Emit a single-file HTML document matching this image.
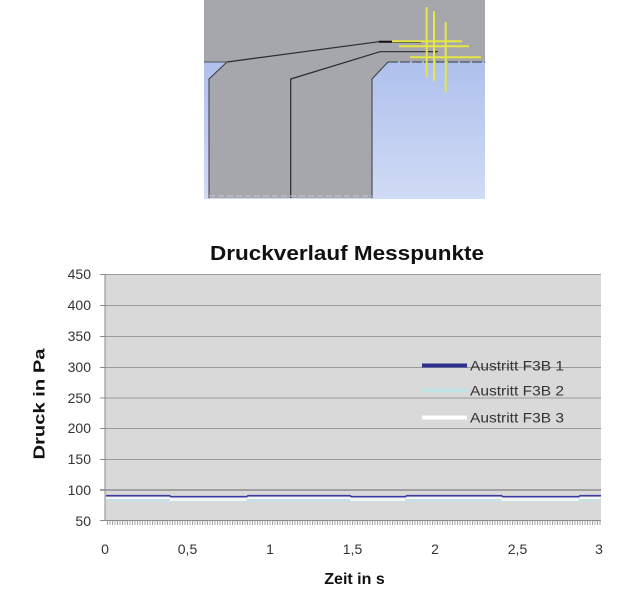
<!DOCTYPE html>
<html><head><meta charset="utf-8"><style>
html,body{margin:0;padding:0;background:#fff;}
svg{display:block;}
</style></head><body>
<svg width="620" height="600" viewBox="0 0 620 600" xmlns="http://www.w3.org/2000/svg">
<defs>
<linearGradient id="bl" x1="0" y1="0" x2="0" y2="1">
<stop offset="0" stop-color="#aec0ec"/>
<stop offset="1" stop-color="#d0dbf5"/>
</linearGradient>
</defs>
<rect width="620" height="600" fill="#fff"/>
<!-- top image -->
<rect x="204" y="62" width="281" height="137" fill="url(#bl)"/>
<rect x="204" y="0" width="281" height="62" fill="#a6a7ad"/>
<polygon points="227,62 209,79 209,198 372,198 372,79 388,62" fill="#a6a7ad"/>
<polyline points="227,62 209,79 209,198" fill="none" stroke="#3a3a40" stroke-width="1"/>
<polyline points="388,62 372,79 372,198" fill="none" stroke="#3a3a40" stroke-width="1"/>
<line x1="388" y1="62" x2="485" y2="62" stroke="#3a3a40" stroke-width="1" stroke-dasharray="10,2"/>
<line x1="204" y1="62" x2="227" y2="62" stroke="#55565c" stroke-width="1"/>
<polyline points="227,62 379,41.7 421,41.7" fill="none" stroke="#2a2a30" stroke-width="1.2"/>
<line x1="379" y1="41.7" x2="421" y2="41.7" stroke="#111" stroke-width="2"/>
<polyline points="290.7,198 290.7,79 380,51.7 438,51.7" fill="none" stroke="#2a2a30" stroke-width="1.2"/>
<line x1="209" y1="196" x2="372" y2="196" stroke="#c8c8cc" stroke-width="1" stroke-dasharray="6,3"/>
<g stroke="#e6e645" stroke-width="2">
<line x1="426.7" y1="7" x2="426.7" y2="77"/>
<line x1="434" y1="11" x2="434" y2="81"/>
<line x1="445.7" y1="22" x2="445.7" y2="92"/>
<line x1="392" y1="41.3" x2="462" y2="41.3"/>
<line x1="399" y1="46.3" x2="469" y2="46.3"/>
<line x1="410" y1="57.3" x2="481" y2="57.3"/>
</g>
<!-- chart -->
<text x="347" y="260" font-family="Liberation Sans, sans-serif" font-weight="bold" font-size="20" text-anchor="middle" textLength="274" lengthAdjust="spacingAndGlyphs" fill="#111">Druckverlauf Messpunkte</text>
<rect x="105" y="274" width="496" height="247" fill="#d9d9d9"/>
<g stroke="#9a9a9a" stroke-width="1">
<line x1="100" y1="274.5" x2="601" y2="274.5"/>
<line x1="100" y1="305.5" x2="601" y2="305.5"/>
<line x1="100" y1="336.5" x2="601" y2="336.5"/>
<line x1="100" y1="367.5" x2="601" y2="367.5"/>
<line x1="100" y1="398" x2="601" y2="398"/>
<line x1="100" y1="428.5" x2="601" y2="428.5"/>
<line x1="100" y1="459.5" x2="601" y2="459.5"/>
</g>
<line x1="100" y1="490" x2="601" y2="490" stroke="#a0a0a0" stroke-width="2"/>
<line x1="100" y1="520.5" x2="601" y2="520.5" stroke="#8c8c8c" stroke-width="1"/>
<line x1="105" y1="274" x2="105" y2="521" stroke="#8c8c8c" stroke-width="1"/>
<!-- dense x ticks -->
<g stroke="#9a9a9a" stroke-width="1" id="ticks"></g>
<!-- series -->
<line x1="106" y1="500.5" x2="601" y2="500.5" stroke="#bfe3e8" stroke-width="2"/>
<g stroke="#f4f4f4">
<line x1="106" y1="498" x2="169.5" y2="498" stroke-width="2"/>
<line x1="169.5" y1="499.3" x2="246.6" y2="499.3" stroke-width="3.5"/>
<line x1="246.6" y1="498" x2="350" y2="498" stroke-width="2"/>
<line x1="350" y1="499.3" x2="405.3" y2="499.3" stroke-width="3.5"/>
<line x1="405.3" y1="498" x2="501.5" y2="498" stroke-width="2"/>
<line x1="501.5" y1="499.3" x2="578.7" y2="499.3" stroke-width="3.5"/>
<line x1="578.7" y1="498" x2="601" y2="498" stroke-width="2"/>
</g>
<path d="M106,495.7 H169.5 L171,496.7 H246.6 L248,495.7 H350 L351.5,496.7 H405.3 L406.8,495.7 H501.5 L503,496.7 H578.7 L580,495.7 H601" fill="none" stroke="#3c3ca0" stroke-width="1.6"/>
<!-- y labels -->
<g font-family="Liberation Sans, sans-serif" font-size="14" fill="#333" text-anchor="end">
<text x="91" y="279">450</text>
<text x="91" y="310">400</text>
<text x="91" y="341">350</text>
<text x="91" y="372">300</text>
<text x="91" y="403">250</text>
<text x="91" y="433">200</text>
<text x="91" y="464">150</text>
<text x="91" y="495">100</text>
<text x="91" y="526">50</text>
</g>
<g font-family="Liberation Sans, sans-serif" font-size="14" fill="#333" text-anchor="middle">
<text x="105" y="554">0</text>
<text x="187.5" y="554">0,5</text>
<text x="270" y="554">1</text>
<text x="352.5" y="554">1,5</text>
<text x="435" y="554">2</text>
<text x="517.5" y="554">2,5</text>
<text x="599" y="554">3</text>
</g>
<text x="354.5" y="584" font-family="Liberation Sans, sans-serif" font-weight="bold" font-size="16" text-anchor="middle" fill="#111">Zeit in s</text>
<text transform="translate(44.5,404) rotate(-90)" font-family="Liberation Sans, sans-serif" font-weight="bold" font-size="16" text-anchor="middle" textLength="111" lengthAdjust="spacingAndGlyphs" fill="#111">Druck in Pa</text>
<!-- legend -->
<line x1="422" y1="365.5" x2="467" y2="365.5" stroke="#2e2e8c" stroke-width="4"/>
<line x1="422" y1="390.5" x2="467" y2="390.5" stroke="#bfe3e6" stroke-width="4"/>
<line x1="422" y1="417.5" x2="467" y2="417.5" stroke="#ffffff" stroke-width="4"/>
<g font-family="Liberation Sans, sans-serif" font-size="14" fill="#333">
<text x="470" y="370.5" textLength="94" lengthAdjust="spacingAndGlyphs">Austritt F3B 1</text>
<text x="470" y="395.5" textLength="94" lengthAdjust="spacingAndGlyphs">Austritt F3B 2</text>
<text x="470" y="422.5" textLength="94" lengthAdjust="spacingAndGlyphs">Austritt F3B 3</text>
</g>
<g stroke="#a3a3a3" stroke-width="1">
<path d="M107.5,521V525M110,521V525M112.5,521V525M115,521V525M117.5,521V525M120,521V525M122.5,521V525M125,521V525M127.5,521V525M130,521V525M132.5,521V525M135,521V525M137.5,521V525M140,521V525M142.5,521V525M145,521V525M147.5,521V525M150,521V525M152.5,521V525M155,521V525M157.5,521V525M160,521V525M162.5,521V525M165,521V525M167.5,521V525M170,521V525M172.5,521V525M175,521V525M177.5,521V525M180,521V525M182.5,521V525M185,521V525M187.5,521V525M190,521V525M192.5,521V525M195,521V525M197.5,521V525M200,521V525M202.5,521V525M205,521V525M207.5,521V525M210,521V525M212.5,521V525M215,521V525M217.5,521V525M220,521V525M222.5,521V525M225,521V525M227.5,521V525M230,521V525M232.5,521V525M235,521V525M237.5,521V525M240,521V525M242.5,521V525M245,521V525M247.5,521V525M250,521V525M252.5,521V525M255,521V525M257.5,521V525M260,521V525M262.5,521V525M265,521V525M267.5,521V525M270,521V525M272.5,521V525M275,521V525M277.5,521V525M280,521V525M282.5,521V525M285,521V525M287.5,521V525M290,521V525M292.5,521V525M295,521V525M297.5,521V525M300,521V525M302.5,521V525M305,521V525M307.5,521V525M310,521V525M312.5,521V525M315,521V525M317.5,521V525M320,521V525M322.5,521V525M325,521V525M327.5,521V525M330,521V525M332.5,521V525M335,521V525M337.5,521V525M340,521V525M342.5,521V525M345,521V525M347.5,521V525M350,521V525M352.5,521V525M355,521V525M357.5,521V525M360,521V525M362.5,521V525M365,521V525M367.5,521V525M370,521V525M372.5,521V525M375,521V525M377.5,521V525M380,521V525M382.5,521V525M385,521V525M387.5,521V525M390,521V525M392.5,521V525M395,521V525M397.5,521V525M400,521V525M402.5,521V525M405,521V525M407.5,521V525M410,521V525M412.5,521V525M415,521V525M417.5,521V525M420,521V525M422.5,521V525M425,521V525M427.5,521V525M430,521V525M432.5,521V525M435,521V525M437.5,521V525M440,521V525M442.5,521V525M445,521V525M447.5,521V525M450,521V525M452.5,521V525M455,521V525M457.5,521V525M460,521V525M462.5,521V525M465,521V525M467.5,521V525M470,521V525M472.5,521V525M475,521V525M477.5,521V525M480,521V525M482.5,521V525M485,521V525M487.5,521V525M490,521V525M492.5,521V525M495,521V525M497.5,521V525M500,521V525M502.5,521V525M505,521V525M507.5,521V525M510,521V525M512.5,521V525M515,521V525M517.5,521V525M520,521V525M522.5,521V525M525,521V525M527.5,521V525M530,521V525M532.5,521V525M535,521V525M537.5,521V525M540,521V525M542.5,521V525M545,521V525M547.5,521V525M550,521V525M552.5,521V525M555,521V525M557.5,521V525M560,521V525M562.5,521V525M565,521V525M567.5,521V525M570,521V525M572.5,521V525M575,521V525M577.5,521V525M580,521V525M582.5,521V525M585,521V525M587.5,521V525M590,521V525M592.5,521V525M595,521V525M597.5,521V525M600,521V525"/>
</g>
<g stroke="#8c8c8c" stroke-width="1">
<path d="M100,274.5H105M100,305.5H105M100,336.5H105M100,367.5H105M100,398H105M100,428.5H105M100,459.5H105M100,520.5H105"/>
</g>
</svg>
</body></html>
